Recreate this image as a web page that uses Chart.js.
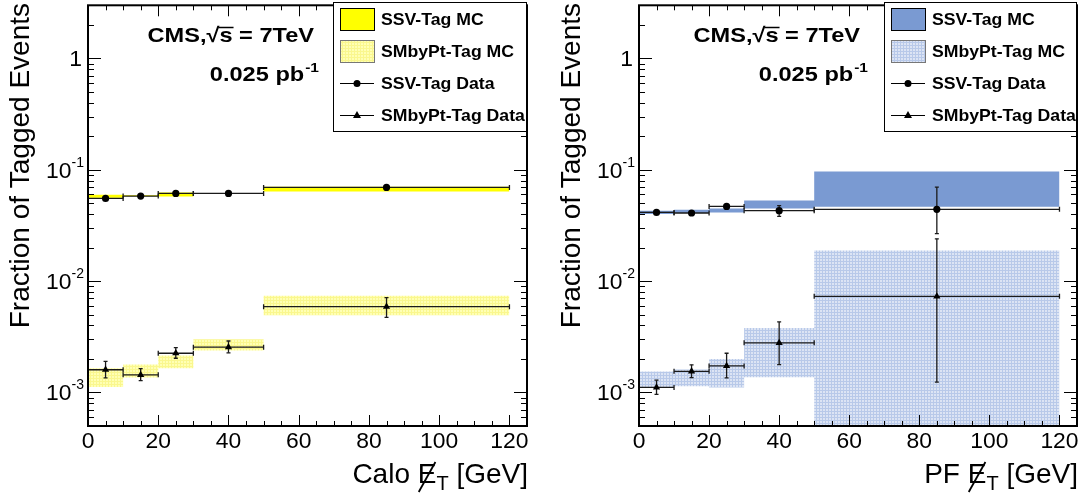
<!DOCTYPE html>
<html><head><meta charset="utf-8">
<script src="https://cdn.jsdelivr.net/npm/chart.js@4.4.0/dist/chart.umd.min.js"></script>
<style>
html,body{margin:0;padding:0;background:#fff;}
#wrap{position:relative;width:1086px;height:495px;overflow:hidden;}
.panel{position:absolute;top:0;width:543px;height:495px;}
#p1{left:0}#p2{left:543px}
</style></head><body>
<div id="wrap"><div class="panel" id="p1"><canvas id="c1" width="543" height="495"></canvas></div><div class="panel" id="p2"><canvas id="c2" width="543" height="495"></canvas></div></div>
<script>
// ---------------- data ----------------
const binEdges = [0, 10, 20, 30, 50, 120];
const binCenters = [5, 15, 25, 40, 85];
const xTickLabels = [0, 20, 40, 60, 80, 100, 120];
const yTickDecades = [-3, -2, -1, 0];
const legendLabels = ['SSV-Tag MC', 'SMbyPt-Tag MC', 'SSV-Tag Data', 'SMbyPt-Tag Data'];
const yTitle = 'Fraction of Tagged Events';
const xTitlePrefix = ['Calo', 'PF'];

// Calo MET panel
const caloSsvMcLow  = [0.0561, 0.0578, 0.0576, 0.0605, 0.0639];
const caloSsvMcHigh = [0.0597, 0.0590, 0.0626, 0.0620, 0.0704];
const caloSmMcLow   = [0.00112, 0.00136, 0.00165, 0.00238, 0.00493];
const caloSmMcHigh  = [0.00165, 0.00178, 0.00215, 0.00300, 0.00740];
const caloSsvData   = [0.0553, 0.0581, 0.0613, 0.0613, 0.0694];
const caloSsvErrLow = [0.0546, 0.0574, 0.0606, 0.0606, 0.0683];
const caloSsvErrHigh= [0.0560, 0.0588, 0.0620, 0.0620, 0.0705];
const caloSmData    = [0.00160, 0.00144, 0.00225, 0.00255, 0.00590];
const caloSmErrLow  = [0.00135, 0.00128, 0.00203, 0.00227, 0.00472];
const caloSmErrHigh = [0.00190, 0.00164, 0.00253, 0.00290, 0.00710];

// PF MET panel
const pfSsvMcLow  = [0.0401, 0.0409, 0.0414, 0.0450, 0.0466];
const pfSsvMcHigh = [0.0429, 0.0438, 0.0450, 0.0531, 0.0965];
const pfSmMcLow   = [0.00111, 0.00114, 0.00111, 0.00137, 0.00040];
const pfSmMcHigh  = [0.00154, 0.00161, 0.00200, 0.00380, 0.01880];
const pfSsvData   = [0.0414, 0.0409, 0.0469, 0.0429, 0.0441];
const pfSsvErrLow = [0.0405, 0.0400, 0.0455, 0.0382, 0.0267];
const pfSsvErrHigh= [0.0423, 0.0418, 0.0483, 0.0476, 0.0699];
const pfSmData    = [0.00111, 0.00155, 0.00173, 0.00279, 0.00730];
const pfSmErrLow  = [0.00096, 0.00136, 0.00135, 0.00178, 0.00124];
const pfSmErrHigh = [0.00129, 0.00177, 0.00225, 0.00430, 0.02400];

// ---------------- styling ----------------
const FONT = '"Liberation Sans", Arial, Helvetica, sans-serif';
const SX_TICK = 1.04, SX_ANN = 1.15, SX_LEG = 1.07;

function makePattern(bg, fg) {
  const c = document.createElement('canvas'); c.width = 3; c.height = 3;
  const g = c.getContext('2d');
  g.fillStyle = bg; g.fillRect(0, 0, 3, 3);
  g.fillStyle = fg; g.fillRect(0, 0, 3, 1); g.fillRect(0, 0, 1, 3);
  return g.createPattern(c, 'repeat');
}

function buildBand(low, high) {
  const idx = i => Math.min(i, low.length - 1);
  return [binEdges.map((e, i) => ({x: e, y: high[idx(i)]})),
          binEdges.map((e, i) => ({x: e, y: low[idx(i)]}))];
}
function buildXErr(vals) {
  const pts = [];
  vals.forEach((v, i) => pts.push({x: binEdges[i], y: v}, {x: binEdges[i + 1], y: v}, {x: binEdges[i + 1], y: null}));
  return pts;
}
function buildYErr(lo, hi) {
  const pts = [];
  binCenters.forEach((c, i) => pts.push({x: c, y: lo[i]}, {x: c, y: hi[i]}, {x: c, y: null}));
  return pts;
}
function buildPts(vals) { return binCenters.map((c, i) => ({x: c, y: vals[i]})); }

function txt(ctx, s, x, y, font, sx, align) {
  ctx.save(); ctx.font = font; ctx.textBaseline = 'alphabetic'; ctx.textAlign = align || 'left';
  ctx.translate(x, y); ctx.scale(sx, 1); ctx.fillText(s, 0, 0); ctx.restore();
}
function tw(ctx, s, font, sx) { ctx.save(); ctx.font = font; const w = ctx.measureText(s).width * sx; ctx.restore(); return w; }
function seg(ctx, x1, y1, x2, y2) { ctx.beginPath(); ctx.moveTo(x1, y1); ctx.lineTo(x2, y2); ctx.stroke(); }

const decorPlugin = {
  id: 'decor',
  afterDraw(chart) {
    const o = chart.options.plugins.decor;
    const {ctx, chartArea: a, scales: {x, y}} = chart;
    ctx.save();
    ctx.fillStyle = '#000'; ctx.strokeStyle = '#000'; ctx.lineWidth = 1;
    // ticks (inward, both sides)
    y.ticks.forEach(t => {
      const py = Math.round(y.getPixelForValue(t.value)) + 0.5;
      if (py < a.top + 1 || py > a.bottom - 1) return;
      const lg = Math.abs(Math.log10(t.value) - Math.round(Math.log10(t.value))) < 1e-6;
      const len = lg ? 13 : 6;
      seg(ctx, a.left, py, a.left + len, py); seg(ctx, a.right - len, py, a.right, py);
    });
    x.ticks.forEach(t => {
      const px = Math.round(x.getPixelForValue(t.value)) + 0.5;
      const len = t.value % 20 === 0 ? 11 : 5;
      seg(ctx, px, a.bottom, px, a.bottom - len); seg(ctx, px, a.top, px, a.top + len);
    });
    ctx.lineWidth = 2;
    ctx.strokeRect(a.left, a.top, a.right - a.left, a.bottom - a.top);

    // legend
    const L = a.left + o.legendOffset, T = 2, R = a.right, B = 132;
    ctx.fillStyle = '#fff'; ctx.fillRect(L, T, R - L, B - T);
    ctx.lineWidth = 1; ctx.strokeStyle = '#000';
    ctx.strokeRect(L + 0.5, T + 0.5, R - L - 1, B - T - 1);
    const rows = [19, 51, 83, 115];
    const bx1 = L + 7, bx2 = L + 41;
    ctx.fillStyle = o.ssvColor; ctx.fillRect(bx1, rows[0] - 11, bx2 - bx1, 22);
    ctx.strokeRect(bx1 + 0.5, rows[0] - 11 + 0.5, bx2 - bx1, 22);
    ctx.fillStyle = o.smPattern; ctx.fillRect(bx1, rows[1] - 11, bx2 - bx1, 22);
    ctx.strokeStyle = '#777'; ctx.strokeRect(bx1 + 0.5, rows[1] - 11 + 0.5, bx2 - bx1, 22);
    ctx.strokeStyle = '#000'; ctx.fillStyle = '#000';
    seg(ctx, bx1, rows[2] + 0.5, bx2, rows[2] + 0.5);
    ctx.beginPath(); ctx.arc((bx1 + bx2) / 2, rows[2] + 0.5, 3.5, 0, Math.PI * 2); ctx.fill();
    seg(ctx, bx1, rows[3] + 0.5, bx2, rows[3] + 0.5);
    const cx = (bx1 + bx2) / 2, cy = rows[3] + 0.5;
    ctx.beginPath(); ctx.moveTo(cx, cy - 4.5); ctx.lineTo(cx + 4, cy + 2.5); ctx.lineTo(cx - 4, cy + 2.5); ctx.closePath(); ctx.fill();
    const lf = 'bold 16.5px ' + FONT;
    legendLabels.forEach((s, i) => txt(ctx, s, L + 48, rows[i] + 6, lf, SX_LEG));

    // annotation
    const af = 'bold 20.5px ' + FONT, sf = 'bold 13.5px ' + FONT;
    const p1 = 'CMS,', p2 = '\u221A', p3 = 's', p4 = ' = 7TeV';
    const w1 = tw(ctx, p1, af, SX_ANN), w2 = tw(ctx, p2, af, SX_ANN), w3 = tw(ctx, p3, af, SX_ANN), w4 = tw(ctx, p4, af, SX_ANN);
    let sx0 = a.left + o.ann1Right - (w1 + w2 + w3 + w4);
    txt(ctx, p1, sx0, 42, af, SX_ANN); txt(ctx, p2, sx0 + w1, 42, af, SX_ANN);
    txt(ctx, p3, sx0 + w1 + w2, 42, af, SX_ANN); txt(ctx, p4, sx0 + w1 + w2 + w3, 42, af, SX_ANN);
    ctx.lineWidth = 1.5;
    seg(ctx, sx0 + w1 + w2 - 1, 27.5, sx0 + w1 + w2 + w3 + 1, 27.5);
    const q1 = '0.025 pb', q2 = '-1';
    const v1 = tw(ctx, q1, af, SX_ANN), v2 = tw(ctx, q2, sf, SX_ANN);
    const qx = a.left + o.ann2Right - v1 - v2;
    txt(ctx, q1, qx, 81, af, SX_ANN); txt(ctx, q2, qx + v1 + 1, 72, sf, SX_ANN);

    // x tick labels
    const tf = '22px ' + FONT, tsf = '14px ' + FONT;
    ctx.fillStyle = '#000';
    xTickLabels.forEach(v => txt(ctx, String(v), x.getPixelForValue(v), 448, tf, SX_TICK, 'center'));
    // y tick labels
    yTickDecades.forEach(d => {
      const py = y.getPixelForValue(Math.pow(10, d));
      const r = a.left - 4;
      if (d === 0) { txt(ctx, '1', r - 2, py + 8, tf, SX_TICK, 'right'); return; }
      const sup = String(d);
      const ws = tw(ctx, sup, tsf, 1.0);
      txt(ctx, sup, r - ws, py - 3, tsf, 1.0);
      txt(ctx, '10', r - ws, py + 8, tf, SX_TICK, 'right');
    });

    // y title
    ctx.save();
    ctx.translate(a.left - 59, 3); ctx.rotate(-Math.PI / 2);
    ctx.font = '28px ' + FONT; ctx.textAlign = 'right'; ctx.textBaseline = 'alphabetic';
    ctx.fillText(yTitle, 0, 0);
    ctx.restore();

    // x title: "<prefix> E̸_T [GeV]"
    const xf = '28px ' + FONT, xs = '20px ' + FONT;
    const t1 = o.xPrefix + ' ', t2 = 'E', t3 = 'T', t4 = ' [GeV]';
    const u1 = tw(ctx, t1, xf, 1), u2 = tw(ctx, t2, xf, 1), u3 = tw(ctx, t3, xs, 1), u4 = tw(ctx, t4, xf, 1);
    const xb = 483, x0 = a.right + 1 - (u1 + u2 + u3 + u4);
    txt(ctx, t1, x0, xb, xf, 1); txt(ctx, t2, x0 + u1, xb, xf, 1);
    txt(ctx, t3, x0 + u1 + u2, xb + 7, xs, 1); txt(ctx, t4, x0 + u1 + u2 + u3, xb, xf, 1);
    ctx.lineWidth = 1.8;
    seg(ctx, x0 + u1 + 1, xb + 9, x0 + u1 + u2 - 1, xb - 21);
    ctx.restore();
  }
};

function makePanel(id, p) {
  const [ssvUp, ssvLo] = buildBand(p.ssvMcLow, p.ssvMcHigh);
  const [smUp, smLo] = buildBand(p.smMcLow, p.smMcHigh);
  const band = {showLine: true, pointRadius: 0, borderColor: 'rgba(0,0,0,0)', borderWidth: 0, stepped: true, order: 10};
  const err = {showLine: true, borderColor: '#1a1a1a', borderWidth: 1.3, pointStyle: 'line', pointBorderColor: '#1a1a1a', pointBorderWidth: 1.3, fill: false, spanGaps: false, order: 5};
  const mk = {showLine: false, pointBackgroundColor: '#000', pointBorderColor: '#000', pointBorderWidth: 0, order: 1};
  const xTickVals = []; for (let v = 0; v <= 120; v += 5) xTickVals.push(v);
  const yTickVals = []; for (let e = -4; e <= 0; e++) for (let m = 1; m <= 9; m++) { const v = m * Math.pow(10, e); if (v >= 5e-4 && v <= 3) yTickVals.push(v); }
  return new Chart(document.getElementById(id), {
    type: 'line',
    data: {datasets: [
      {...band, label: legendLabels[0], data: ssvUp, backgroundColor: p.ssvColor, fill: false},
      {...band, label: legendLabels[0] + ' (low)', data: ssvLo, backgroundColor: p.ssvColor, fill: '-1'},
      {...band, label: legendLabels[1], data: smUp, backgroundColor: p.smPattern, fill: false},
      {...band, label: legendLabels[1] + ' (low)', data: smLo, backgroundColor: p.smPattern, fill: '-1'},
      {...err, label: legendLabels[2] + ' x-err', data: buildXErr(p.ssvData), pointRadius: 2.5, pointRotation: 90},
      {...err, label: legendLabels[2] + ' y-err', data: buildYErr(p.ssvErrLow, p.ssvErrHigh), pointRadius: 2, pointRotation: 0},
      {...err, label: legendLabels[3] + ' x-err', data: buildXErr(p.smData), pointRadius: 2.5, pointRotation: 90},
      {...err, label: legendLabels[3] + ' y-err', data: buildYErr(p.smErrLow, p.smErrHigh), pointRadius: 2, pointRotation: 0},
      {...mk, label: legendLabels[2], data: buildPts(p.ssvData), pointStyle: 'circle', pointRadius: 3.6},
      {...mk, label: legendLabels[3], data: buildPts(p.smData), pointStyle: 'triangle', pointRadius: 4.2}
    ]},
    options: {
      responsive: false, animation: false, events: [],
      layout: {padding: {left: 0, right: p.padRight, top: 4, bottom: 0}},
      plugins: {legend: {display: false}, tooltip: {enabled: false},
        decor: {legendOffset: p.legendOffset, ssvColor: p.ssvColor, smPattern: p.smPattern, ann1Right: p.ann1Right, ann2Right: p.ann2Right, xPrefix: p.xPrefix}},
      scales: {
        x: {type: 'linear', min: 0, max: 125, grid: {display: false}, border: {display: false}, ticks: {display: false},
            afterBuildTicks: s => { s.ticks = xTickVals.map(v => ({value: v})); },
            afterFit: s => { s.height = 69; }},
        y: {type: 'logarithmic', min: 5e-4, max: 3, grid: {display: false}, border: {display: false}, ticks: {display: false},
            afterBuildTicks: s => { s.ticks = yTickVals.map(v => ({value: v})); },
            afterFit: s => { s.width = p.yWidth; }}
      }
    },
    plugins: [decorPlugin]
  });
}

makePanel('c1', {
  ssvMcLow: caloSsvMcLow, ssvMcHigh: caloSsvMcHigh, smMcLow: caloSmMcLow, smMcHigh: caloSmMcHigh,
  ssvData: caloSsvData, ssvErrLow: caloSsvErrLow, ssvErrHigh: caloSsvErrHigh,
  smData: caloSmData, smErrLow: caloSmErrLow, smErrHigh: caloSmErrHigh,
  ssvColor: '#ffff00', smPattern: makePattern('#ffffb4', '#faf78e'),
  yWidth: 88, padRight: 16, legendOffset: 245, ann1Right: 226, ann2Right: 230, xPrefix: xTitlePrefix[0]
});
makePanel('c2', {
  ssvMcLow: pfSsvMcLow, ssvMcHigh: pfSsvMcHigh, smMcLow: pfSmMcLow, smMcHigh: pfSmMcHigh,
  ssvData: pfSsvData, ssvErrLow: pfSsvErrLow, ssvErrHigh: pfSsvErrHigh,
  smData: pfSmData, smErrLow: pfSmErrLow, smErrHigh: pfSmErrHigh,
  ssvColor: '#7a9ad2', smPattern: makePattern('#dce4f4', '#b8c9e9'),
  yWidth: 96, padRight: 9, legendOffset: 245, ann1Right: 221, ann2Right: 228, xPrefix: xTitlePrefix[1]
});
</script>
</body></html>
